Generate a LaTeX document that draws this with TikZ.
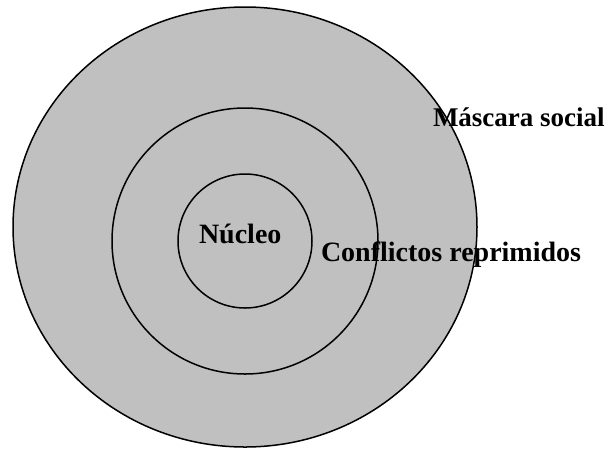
\documentclass[tikz,border=0pt]{standalone}
\usepackage{fontspec}
\setmainfont{Liberation Serif}
\usetikzlibrary{shapes.geometric}
\definecolor{ringgray}{HTML}{C0C0C0}
\tikzset{
  ring/.style={draw=black, line width=1.5pt, fill=ringgray, inner sep=0pt, outer sep=0pt},
  lbl/.style={anchor=base west, inner sep=0pt, outer sep=0pt, font=\fontsize{28}{30}\selectfont\bfseries}
}
\begin{document}
\begin{tikzpicture}[x=1pt,y=-1pt]
\useasboundingbox (0,0) rectangle (610,448);
\node[ring, ellipse, minimum width=464pt, minimum height=440pt] (outer) at (245,227) {};
\node[ring, circle, minimum size=266pt] (middle) at (245,241) {};
\node[ring, circle, minimum size=134pt] (inner) at (245,241) {};
\node[lbl] (nucleo) at (199,243.5) {Núcleo};
\node[lbl] (conflictos) at (321,261.5) {Conflictos reprimidos};
\node[lbl, font=\fontsize{27}{30}\selectfont\bfseries] (mascara) at (433,126.5) {Máscara social};
\end{tikzpicture}
\end{document}
